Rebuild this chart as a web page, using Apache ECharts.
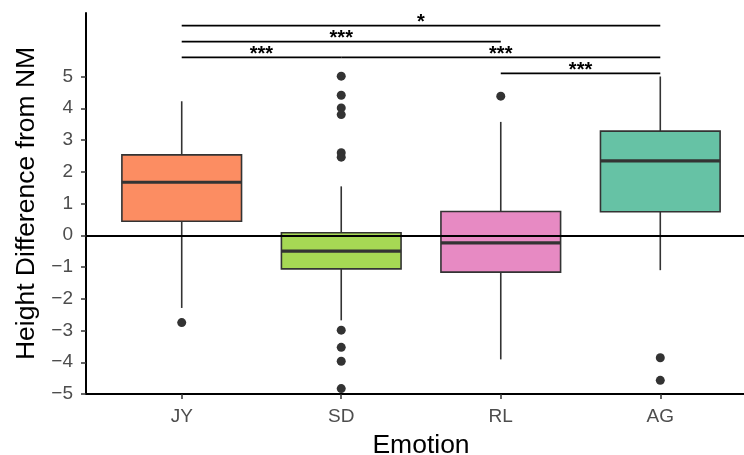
<!DOCTYPE html>
<html>
<head>
<meta charset="utf-8">
<script src="https://cdn.jsdelivr.net/npm/echarts@6/dist/echarts.min.js"></script>
<style>
  html, body { margin: 0; padding: 0; background: #fff; }
  #chart { width: 744px; height: 455px; }
</style>
</head>
<body>
<div id="chart"></div>
<script>
const categories = ['JY', 'SD', 'RL', 'AG'];
const boxColors = ['#FC8D62', '#A6D854', '#E78AC3', '#66C2A5'];
// [lower whisker, Q1, median, Q3, upper whisker]
const boxStats = [
  [-2.29, 0.44, 1.67, 2.53, 4.22],
  [-2.68, -1.06, -0.50, 0.08, 1.54],
  [-3.91, -1.16, -0.24, 0.75, 3.57],
  [-1.10, 0.74, 2.34, 3.28, 5.00]
];
// [category position, value]
const outliers = [
  [1, -2.75],
  [2, 5.01], [2, 4.41], [2, 4.01], [2, 3.80], [2, 2.60], [2, 2.46],
  [2, -2.99], [2, -3.53], [2, -3.97], [2, -4.83],
  [3, 4.38],
  [4, -3.86], [4, -4.57]
];
// [from, to, height, label]
const brackets = [
  [1, 4, 6.6, '*'],
  [1, 3, 6.1, '***'],
  [1, 2, 5.6, '***'],
  [2, 4, 5.6, '***'],
  [3, 4, 5.1, '***']
];
const xTicks = [1, 2, 3, 4];
const yTicks = [-5, -4, -3, -2, -1, 0, 1, 2, 3, 4, 5];

const FONT = '"Liberation Sans", Arial, sans-serif';
const chart = echarts.init(document.getElementById('chart'));

function renderBox(params, api) {
  const x = api.value(0);
  const lo = api.value(1), q1 = api.value(2), med = api.value(3), q3 = api.value(4), hi = api.value(5);
  const half = 0.375;
  const topLeft = api.coord([x - half, q3]);
  const botRight = api.coord([x + half, q1]);
  const xc = api.coord([x, med])[0];
  const yMed = api.coord([x, med])[1];
  const stroke = { stroke: '#333333', lineWidth: 1.6 };
  return {
    type: 'group',
    children: [
      { type: 'line', shape: { x1: xc, y1: api.coord([x, hi])[1], x2: xc, y2: topLeft[1] }, style: stroke },
      { type: 'line', shape: { x1: xc, y1: botRight[1], x2: xc, y2: api.coord([x, lo])[1] }, style: stroke },
      {
        type: 'rect',
        shape: { x: topLeft[0], y: topLeft[1], width: botRight[0] - topLeft[0], height: botRight[1] - topLeft[1] },
        style: { fill: boxColors[params.dataIndex], stroke: '#333333', lineWidth: 1.6 }
      },
      { type: 'line', shape: { x1: topLeft[0], y1: yMed, x2: botRight[0], y2: yMed }, style: { stroke: '#333333', lineWidth: 3.2 } }
    ]
  };
}

function renderBracket(params, api) {
  const a = api.coord([api.value(0), api.value(2)]);
  const b = api.coord([api.value(1), api.value(2)]);
  return {
    type: 'group',
    children: [
      { type: 'line', shape: { x1: a[0], y1: a[1], x2: b[0], y2: b[1] }, style: { stroke: '#000', lineWidth: 1.7 } },
      {
        type: 'text',
        x: (a[0] + b[0]) / 2,
        y: a[1] - 3,
        style: {
          text: brackets[params.dataIndex][3],
          fontSize: 20,
          fontWeight: 'bold',
          fontFamily: FONT,
          fill: '#000',
          align: 'center',
          verticalAlign: 'middle'
        }
      }
    ]
  };
}

chart.setOption({
  animation: false,
  backgroundColor: '#fff',
  grid: { left: 86, top: 13, width: 670, height: 381, outerBoundsMode: 'none' },
  xAxis: {
    type: 'value',
    min: 0.4,
    max: 4.6,
    name: 'Emotion',
    nameLocation: 'middle',
    nameGap: 38,
    nameTextStyle: { fontSize: 26.5, color: '#000', fontFamily: FONT },
    axisLine: { show: true, onZero: false, lineStyle: { color: '#000', width: 2 } },
    axisTick: { show: true, customValues: xTicks, length: 5, lineStyle: { color: '#333', width: 1.5 } },
    axisLabel: {
      customValues: xTicks,
      formatter: v => categories[Math.round(v) - 1],
      color: '#4d4d4d', fontSize: 19, fontFamily: FONT, margin: 13
    },
    splitLine: { show: false }
  },
  yAxis: {
    type: 'value',
    min: -5,
    max: 7,
    name: 'Height Difference from NM',
    nameLocation: 'middle',
    nameGap: 43,
    nameTextStyle: { fontSize: 26.5, color: '#000', fontFamily: FONT },
    axisLine: { show: true, onZero: false, lineStyle: { color: '#000', width: 2 } },
    axisTick: { show: true, customValues: yTicks, length: 5, lineStyle: { color: '#333', width: 1.5 } },
    axisLabel: {
      customValues: yTicks,
      formatter: v => String(v).replace('-', '\u2212'),
      color: '#4d4d4d', fontSize: 19, fontFamily: FONT, margin: 13
    },
    splitLine: { show: false }
  },
  series: [
    {
      type: 'custom',
      name: 'box',
      renderItem: renderBox,
      encode: { x: 0, y: [1, 2, 3, 4, 5] },
      data: boxStats.map((s, i) => [xTicks[i]].concat(s)),
      z: 2
    },
    {
      type: 'scatter',
      name: 'outliers',
      data: outliers,
      symbolSize: 9,
      itemStyle: { color: '#333333', opacity: 1 },
      z: 3
    },
    {
      type: 'custom',
      name: 'brackets',
      renderItem: renderBracket,
      encode: { x: [0, 1], y: 2 },
      data: brackets.map(b => [b[0], b[1], b[2]]),
      z: 4
    },
    {
      type: 'line',
      name: 'zero',
      data: [],
      z: 5,
      markLine: {
        silent: true,
        symbol: 'none',
        label: { show: false },
        lineStyle: { color: '#000', width: 2, type: 'solid' },
        data: [{ yAxis: 0 }]
      }
    }
  ]
});
</script>
</body>
</html>
